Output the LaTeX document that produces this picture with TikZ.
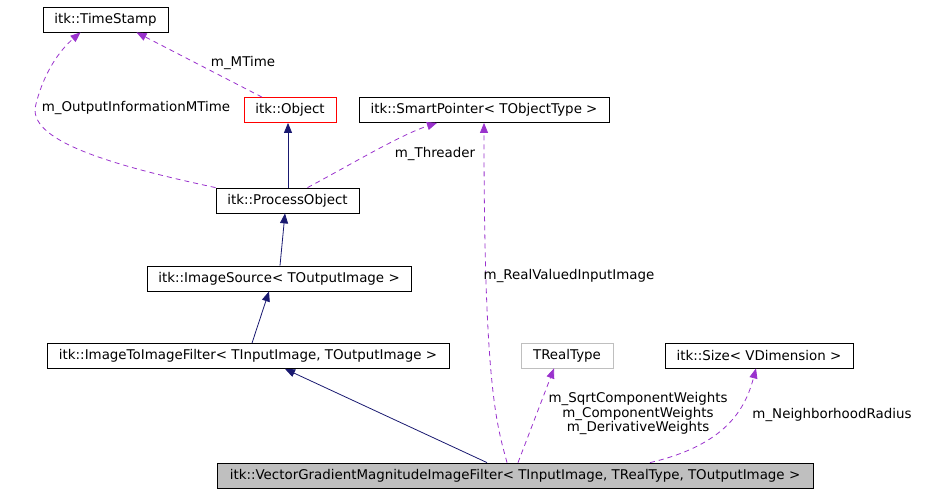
\documentclass[tikz,border=0pt]{standalone}
\usepackage{fontspec}
\setmainfont{DejaVu Sans}
\usetikzlibrary{arrows.meta}
\definecolor{edgepurple}{HTML}{9A32CD}
\definecolor{inhnavy}{HTML}{191970}
\definecolor{boxgrey}{HTML}{BFBFBF}

\begin{document}
\begin{tikzpicture}[x=1pt,y=-1pt,
  cls/.style={draw=black,line width=0.8pt,minimum height=25pt,inner sep=0pt,font=\fontsize{13.4}{15}\selectfont},
  lbl/.style={inner sep=0pt,align=center,font=\fontsize{13.4}{14.5}\selectfont},
  inherit/.style={draw=inhnavy,line width=0.8pt,-{Triangle[length=10pt,width=8pt]}},
  memb/.style={draw=edgepurple,line width=0.8pt,dash pattern=on 5pt off 4pt,-{Triangle[length=10pt,width=8pt]}}]
\useasboundingbox (0,0) rectangle (925,493);
\node[cls,minimum width=125pt] (ts) at (105.5,19.5) {itk::TimeStamp};
\node[cls,draw=red,minimum width=92pt] (obj) at (290,110) {itk::Object};
\node[cls,minimum width=250pt] (sp) at (484,110) {itk::SmartPointer< TObjectType >};
\node[cls,minimum width=143pt] (po) at (287.5,200.5) {itk::ProcessObject};
\node[cls,minimum width=264pt] (is) at (279,278.5) {itk::ImageSource< TOutputImage >};
\node[cls,minimum width=402pt] (i2i) at (248,356) {itk::ImageToImageFilter< TInputImage, TOutputImage >};
\node[cls,draw=boxgrey,minimum width=92pt] (rt) at (567,355.5) {TRealType};
\node[cls,minimum width=188pt] (sz) at (759,355.5) {itk::Size< VDimension >};
\node[cls,fill=boxgrey,minimum width=596pt] (vg) at (515,475.5) {itk::VectorGradientMagnitudeImageFilter< TInputImage, TRealType, TOutputImage >};

\draw[memb] ([xshift=-28pt]obj.north) -- ([xshift=31pt]ts.south);
\node[lbl] (lmtime) at (243,63) {m\_MTime};
\draw[memb] (po.north west) .. controls (110,165) and (25,140) .. (36,104) .. controls (44,72) and (60,50) .. ([xshift=-25pt]ts.south);
\node[lbl] (loutmtime) at (136,108) {m\_OutputInformationMTime};
\draw[inherit] ([xshift=0.5pt]po.north) -- ([xshift=-2pt]obj.south);
\draw[memb] ([xshift=20pt]po.north) .. controls (350,165) and (400,135) .. ([xshift=-47pt]sp.south);
\node[lbl] (lthreader) at (435,154) {m\_Threader};
\draw[inherit] ([xshift=1pt]is.north) -- ([xshift=-2.5pt]po.south);
\draw[inherit] ([xshift=4pt]i2i.north) -- ([xshift=-10pt]is.south);
\draw[inherit] ([xshift=-28pt]vg.north) -- ([xshift=37pt]i2i.south);
\draw[memb] ([xshift=-8pt]vg.north) .. controls (497,425) and (484,390) .. (sp.south);
\node[lbl] (lrealval) at (569,276) {m\_RealValuedInputImage};
\draw[memb] ([xshift=3pt]vg.north) -- ([xshift=-13pt]rt.south);
\node[lbl] (lweights) at (638,413.5) {m\_SqrtComponentWeights\\m\_ComponentWeights\\m\_DerivativeWeights};
\draw[memb] ([xshift=135pt]vg.north) .. controls (725,445) and (745,410) .. ([xshift=-3pt]sz.south);
\node[lbl] (lradius) at (832,415) {m\_NeighborhoodRadius};
\end{tikzpicture}
\end{document}
